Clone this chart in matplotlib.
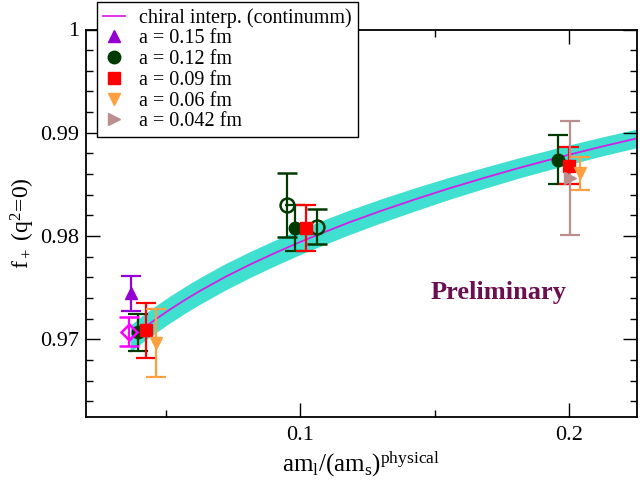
import matplotlib
matplotlib.use("Agg")
import matplotlib.pyplot as plt
import numpy as np
from matplotlib.ticker import MultipleLocator
from matplotlib.lines import Line2D

plt.rcParams['font.family'] = ['Liberation Serif', 'DejaVu Serif']
plt.rcParams['mathtext.fontset'] = 'custom'
plt.rcParams['mathtext.rm'] = 'Liberation Serif'
plt.rcParams['mathtext.it'] = 'Liberation Serif'

# chiral interpolation curve
curve_x = [0.03680, 0.04115, 0.04610, 0.05167, 0.05725, 0.06283, 0.07212, 0.08141, 0.09071, 0.10000,
           0.10743, 0.11859, 0.12974, 0.14275, 0.15576, 0.16877, 0.18178, 0.19665, 0.21152, 0.22528]
curve_y = [0.97004, 0.97095, 0.97190, 0.97289, 0.97382, 0.97469, 0.97603, 0.97724, 0.97836, 0.97942,
           0.98021, 0.98135, 0.98240, 0.98355, 0.98464, 0.98565, 0.98662, 0.98765, 0.98862, 0.98946]
curve_err = [0.00130, 0.00130, 0.00130, 0.00130, 0.00129, 0.00129, 0.00128, 0.00126, 0.00124, 0.00122,
             0.00121, 0.00119, 0.00116, 0.00112, 0.00107, 0.00102, 0.00098, 0.00095, 0.00092, 0.00090]

# a = 0.15 fm
a15_x = [0.0371]
a15_y = [0.97446]
a15_e = [0.00170]
# a = 0.12 fm (filled)
a12_x = [0.0397, 0.0981, 0.1960]
a12_y = [0.97069, 0.98078, 0.98737]
a12_e = [0.00180, 0.00222, 0.00238]
# a = 0.12 fm (open)
a12o_x = [0.0953, 0.1064]
a12o_y = [0.98300, 0.98091]
a12o_e = [0.00310, 0.00170]
# a = 0.09 fm
a09_x = [0.0428, 0.1021, 0.2000]
a09_y = [0.97085, 0.98078, 0.98679]
a09_e = [0.00270, 0.00220, 0.00180]
# a = 0.06 fm
a06_x = [0.0464, 0.2041]
a06_y = [0.96962, 0.98608]
a06_e = [0.00330, 0.00160]
# a = 0.042 fm
a042_x = [0.2004]
a042_y = [0.98559]
a042_e = [0.00550]
# physical point result
phys_x = [0.0365]
phys_y = [0.97075]
phys_e = [0.00140]

fig = plt.figure(figsize=(6.4, 4.82), dpi=100)
ax = fig.add_axes([86/640, 1-416.7/482, (637-86)/640, (416.7-29.5)/482])

cx = np.array(curve_x); cy = np.array(curve_y); ce = np.array(curve_err)
ax.fill_between(cx, cy-ce, cy+ce, color='#40E0D0', lw=0, zorder=1)
ax.plot(cx, cy, color='#D020E8', lw=1.3, zorder=2)

ekw = dict(capsize=7, elinewidth=1.6, capthick=1.6, linestyle='none', zorder=3)
ax.errorbar(a15_x, a15_y, yerr=a15_e, marker='^', ms=9, color='#9400D3', **ekw)
ax.errorbar(a12_x, a12_y, yerr=a12_e, marker='o', ms=9, color='#003A00', **ekw)
ax.errorbar(a12o_x, a12o_y, yerr=a12o_e, marker='o', ms=10, color='#003A00', mfc='none', mew=1.8, **ekw)
ax.errorbar(a09_x, a09_y, yerr=a09_e, marker='s', ms=8, color='#FF0000', **ekw)
ax.errorbar(a06_x, a06_y, yerr=a06_e, marker='v', ms=9, color='#FFA040', **ekw)
ax.errorbar(a042_x, a042_y, yerr=a042_e, marker='>', ms=9, color='#BC8F8F', **ekw)
ax.errorbar(phys_x, phys_y, yerr=phys_e, marker='D', ms=8, color='#FF00FF', mfc='none', mew=1.8, **ekw)

ax.set_xlim(0.0204, 0.2253)
ax.set_ylim(0.9625, 1.0)
ax.xaxis.set_minor_locator(MultipleLocator(0.05))
ax.yaxis.set_minor_locator(MultipleLocator(0.002))
ax.set_xticks([0.1, 0.2])
ax.set_xticklabels(['0.1', '0.2'])
ax.set_yticks([0.97, 0.98, 0.99, 1.0])
ax.set_yticklabels(['0.97', '0.98', '0.99', '1'])
ax.tick_params(which='both', direction='in', top=True, right=True, labelsize=16, width=1)
ax.tick_params(axis='x', which='major', pad=7)
ax.tick_params(axis='y', which='major', pad=5)
ax.tick_params(which='major', length=10)
ax.tick_params(which='minor', length=5)
for s in ax.spines.values():
    s.set_linewidth(1.3)

ax.set_xlabel(r'am$_\mathrm{l}$/(am$_\mathrm{s}$)$^\mathrm{physical}$', fontsize=18, labelpad=3)
ax.set_ylabel(r'f$_+$ (q$^2$=0)', fontsize=17, labelpad=2)

fig.text(499/640, 1-292/482, 'Preliminary', fontsize=19, fontweight='bold',
         color='#6B0F4F', ha='center', va='center')

handles = [
    Line2D([], [], color='#E020E8', lw=1.3),
    Line2D([], [], marker='^', ms=9, color='#9400D3', ls='none'),
    Line2D([], [], marker='o', ms=9, color='#003A00', ls='none'),
    Line2D([], [], marker='s', ms=8, color='#FF0000', ls='none'),
    Line2D([], [], marker='v', ms=9, color='#FFA040', ls='none'),
    Line2D([], [], marker='>', ms=9, color='#BC8F8F', ls='none'),
]
labels = ['chiral interp. (continumm)', 'a = 0.15 fm', 'a = 0.12 fm', 'a = 0.09 fm',
          'a = 0.06 fm', 'a = 0.042 fm']
leg = ax.legend(handles, labels, loc='upper left', bbox_to_anchor=(97/640, 1-2/482),
                bbox_transform=fig.transFigure,
                fontsize=14.5, frameon=True, fancybox=False, edgecolor='black', framealpha=1,
                borderpad=0.3, labelspacing=0.08, handlelength=1.1, handletextpad=0.7,
                borderaxespad=0)
leg.get_frame().set_linewidth(1.0)
leg.set_zorder(10)

fig.savefig('out.png', dpi=100)
